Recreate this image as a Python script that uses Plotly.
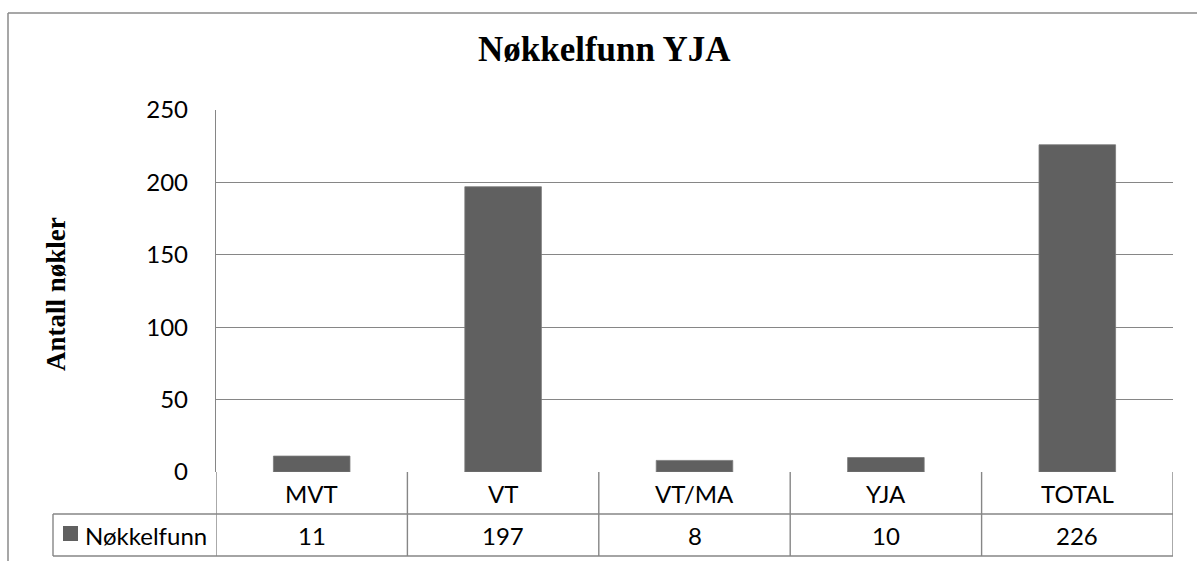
import plotly.graph_objects as go

categories = ["MVT", "VT", "VT/MA", "YJA", "TOTAL"]
values = [11, 197, 8, 10, 226]
series_name = "Nøkkelfunn"
title_text = "Nøkkelfunn YJA"
y_title = "Antall nøkler"
y_ticks = [0, 50, 100, 150, 200, 250]

W, H = 1197, 561
L, R, T, B = 216, 1173, 110, 472  # plot area in pixels

def px(x):
    return (x - L) / (R - L)

def py(y):
    return (B - y) / (B - T)

bar_color = "#606060"
grid_color = "#868686"
sans = "Lato, 'Open Sans', sans-serif"
serif = "'Liberation Serif', 'DejaVu Serif', serif"
fs = 24

fig = go.Figure()
fig.add_trace(go.Bar(
    x=list(range(len(categories))), y=values, name=series_name,
    width=0.4, marker=dict(color=bar_color, line=dict(color="#7a7a7a", width=0.8)),
    showlegend=False, hoverinfo="skip"))

shapes = []
line = dict(color=grid_color, width=1.4)
n = len(categories)
row1_bot = 514
row2_bot = 556
# horizontal table lines
for yy in (row1_bot, row2_bot):
    shapes.append(dict(type="line", xref="paper", yref="paper",
                       x0=px(53), x1=1, y0=py(yy), y1=py(yy), line=line))
# vertical table lines at category boundaries
for i in range(n + 1):
    shapes.append(dict(type="line", xref="x", yref="paper",
                       x0=i - 0.5, x1=i - 0.5, y0=0, y1=py(row2_bot), line=line))
# legend column left line
shapes.append(dict(type="line", xref="paper", yref="paper",
                   x0=px(53), x1=px(53), y0=py(row1_bot), y1=py(row2_bot), line=line))
# legend key square
shapes.append(dict(type="rect", xref="paper", yref="paper",
                   x0=px(63), x1=px(78), y0=py(541), y1=py(526),
                   fillcolor=bar_color, line=dict(width=0)))
# outer chart frame (cropped)
frame = dict(color="#8a8a8a", width=1.5)
shapes.append(dict(type="line", xref="paper", yref="paper",
                   x0=px(8), x1=px(8), y0=py(13), y1=py(600), line=frame))
shapes.append(dict(type="line", xref="paper", yref="paper",
                   x0=px(8), x1=px(1250), y0=py(13), y1=py(13), line=frame))

annotations = []
for i, (c, v) in enumerate(zip(categories, values)):
    annotations.append(dict(x=i, xref="x", y=py(493), yref="paper", text=c,
                            showarrow=False, font=dict(family=sans, size=fs, color="#000"),
                            xanchor="center", yanchor="middle"))
    annotations.append(dict(x=i, xref="x", y=py(535), yref="paper", text=str(v),
                            showarrow=False, font=dict(family=sans, size=fs, color="#000"),
                            xanchor="center", yanchor="middle"))
annotations.append(dict(x=px(83), xref="paper", y=py(535), yref="paper", text=series_name,
                        showarrow=False, font=dict(family=sans, size=fs, color="#000"),
                        xanchor="left", yanchor="middle"))
annotations.append(dict(x=px(604), xref="paper", y=py(50), yref="paper", text="<b>" + title_text + "</b>",
                        showarrow=False, font=dict(family=serif, size=35, color="#000"),
                        xanchor="center", yanchor="middle"))
annotations.append(dict(x=px(56), xref="paper", y=py(294), yref="paper", text="<b>" + y_title + "</b>",
                        showarrow=False, textangle=-90, font=dict(family=serif, size=27, color="#000"),
                        xanchor="center", yanchor="middle"))

fig.update_layout(
    width=W, height=H,
    margin=dict(l=L, r=W - R, t=T, b=H - B, pad=0),
    paper_bgcolor="white", plot_bgcolor="white",
    shapes=shapes, annotations=annotations,
    bargap=0.6,
    xaxis=dict(range=[-0.5, n - 0.5], showticklabels=False, showgrid=False,
               zeroline=False, showline=False, fixedrange=True),
    yaxis=dict(range=[0, 250], tickvals=y_ticks, showgrid=True, gridcolor=grid_color,
               gridwidth=1.4, zeroline=False, showline=True, linecolor=grid_color, linewidth=1.4,
               ticks="", ticklabelstandoff=22,
               tickfont=dict(family=sans, size=fs, color="#000"), fixedrange=True),
)

fig.write_html("out.html", config={"displayModeBar": False},
               post_script="document.body.style.margin='0px';document.body.style.overflow='hidden';")
